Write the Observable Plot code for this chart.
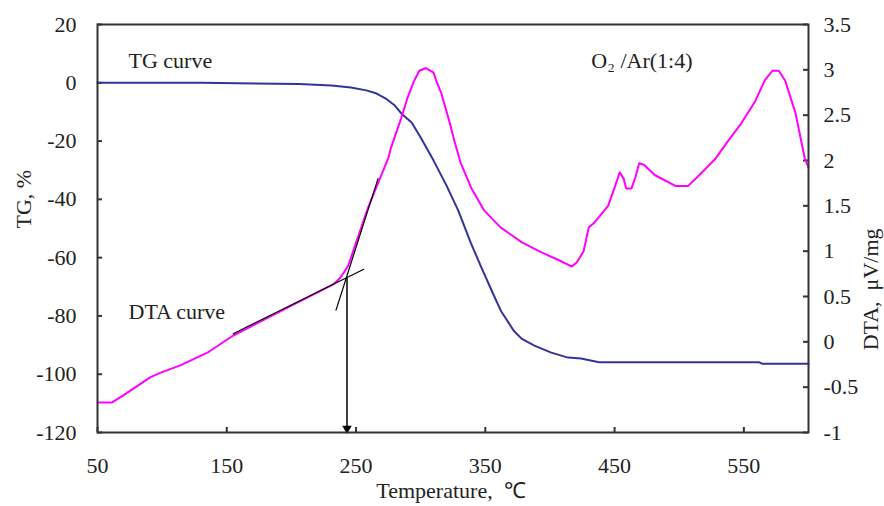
<!DOCTYPE html>
<html>
<head>
<meta charset="utf-8">
<script src="https://cdn.jsdelivr.net/npm/d3@7"></script>
<script src="https://cdn.jsdelivr.net/npm/@observablehq/plot@0.6"></script>
<style>
  html, body { margin: 0; padding: 0; background: #fff; }
</style>
</head>
<body>
<div id="chart"></div>
<script>
// ---- Data ----
const xTicks = [50, 150, 250, 350, 450, 550];
const tgTicks = [-120, -100, -80, -60, -40, -20, 0, 20];
const dtaTicks = [-1, -0.5, 0, 0.5, 1, 1.5, 2, 2.5, 3, 3.5];

// TG curve (%)
const tgTemp  = [50, 130, 206, 231, 246, 258, 266, 273, 280, 285, 293, 300, 310, 320, 329, 339, 347, 356, 362, 372, 378, 388, 401, 414, 424, 438, 562, 564, 600];
const tgValue = [0, 0, -0.4, -0.9, -1.6, -2.6, -3.7, -5.4, -7.8, -10.5, -13.6, -18.8, -26.7, -35.3, -43.8, -55.2, -63.4, -72.4, -78.2, -85.1, -87.8, -90.2, -92.6, -94.3, -94.6, -95.9, -95.9, -96.4, -96.4];

// DTA curve (μV/mg)
const dtaTemp  = [50, 61, 70, 91, 99, 114, 135, 155, 200, 233, 238, 244, 248, 254, 259, 267, 275, 277, 285, 290, 295, 299, 304, 310, 312, 316, 322, 326, 331, 339, 349, 362, 368, 378, 393, 407, 417, 421, 426, 430, 434, 445, 450, 454, 457, 459, 463, 466, 469, 473, 481, 497, 507, 517, 528, 538, 548, 559, 566, 572, 577, 582, 590, 597, 600];
const dtaValue = [-0.67, -0.67, -0.59, -0.39, -0.34, -0.26, -0.12, 0.07, 0.40, 0.64, 0.71, 0.84, 1.01, 1.26, 1.47, 1.75, 2.03, 2.14, 2.47, 2.70, 2.88, 2.99, 3.02, 2.97, 2.88, 2.74, 2.44, 2.22, 1.97, 1.70, 1.45, 1.26, 1.20, 1.10, 0.99, 0.90, 0.83, 0.88, 1.00, 1.26, 1.31, 1.50, 1.70, 1.87, 1.80, 1.69, 1.69, 1.81, 1.97, 1.95, 1.84, 1.72, 1.72, 1.86, 2.02, 2.22, 2.41, 2.66, 2.88, 2.99, 2.99, 2.88, 2.52, 2.03, 1.92];

// Onset construction (tangent lines and arrow)
const tangent1Temp = [155, 256];
const tangent1Dta  = [0.09, 0.80];
const tangent2Temp = [234.5, 267];
const tangent2Dta  = [0.35, 1.80];
const onsetTemp = [243];
const onsetDta  = [0.70];
const axisDta   = [-1];

// Annotations
const labels = ["TG curve", "O₂ /Ar(1:4)", "DTA curve"];
const labelTemp = [74, 432, 74];
const labelTG   = [7.6, 7.6, -78.5];

// ---- Helpers ----
const tgDomain = [-120, 20];
const dtaDomain = [-1, 3.5];
const dtaToY = d => tgDomain[0] + (d - dtaDomain[0]) * (tgDomain[1] - tgDomain[0]) / (dtaDomain[1] - dtaDomain[0]);
const yToDta = y => dtaDomain[0] + (y - tgDomain[0]) * (dtaDomain[1] - dtaDomain[0]) / (tgDomain[1] - tgDomain[0]);

const W = 884, H = 506, mL = 97, mR = 76, mT = 24, mB = 74;
const plotW = W - mL - mR, plotH = H - mT - mB;
const tickLen = 5;
const axisColor = "#333";

const tgData = tgTemp.map((t, i) => ({t, v: tgValue[i]}));
const dtaData = dtaTemp.map((t, i) => ({t, v: dtaValue[i]}));
const tan1 = tangent1Temp.map((t, i) => ({t, v: tangent1Dta[i]}));
const tan2 = tangent2Temp.map((t, i) => ({t, v: tangent2Dta[i]}));
const arrowData = onsetTemp.map((t, i) => ({t, from: onsetDta[i], to: axisDta[i]}));
const labelData = labels.map((s, i) => ({s, t: labelTemp[i], v: labelTG[i]}));

const chart = Plot.plot({
  width: W, height: H,
  marginLeft: mL, marginRight: mR, marginTop: mT, marginBottom: mB,
  style: {fontFamily: "'Liberation Serif', 'Times New Roman', serif", fontSize: "22px", color: "#222", background: "#fff"},
  x: {domain: [50, 600]},
  y: {domain: tgDomain},
  marks: [
    // inward ticks
    Plot.tickY(tgTicks, {y: d => d, stroke: axisColor, strokeWidth: 2, insetRight: plotW - tickLen}),
    Plot.tickY(dtaTicks.map(dtaToY), {y: d => d, stroke: axisColor, strokeWidth: 2, insetLeft: plotW - tickLen}),
    Plot.tickX(xTicks, {x: d => d, stroke: axisColor, strokeWidth: 2, insetTop: plotH - tickLen}),
    // tick labels
    Plot.axisY(tgTicks, {anchor: "left", tickSize: 0, tickPadding: 21, label: null, fill: "#222",
      tickFormat: v => String(v)}),
    Plot.axisY(dtaTicks.map(dtaToY), {anchor: "right", tickSize: 0, tickPadding: 15, label: null, fill: "#222",
      tickFormat: v => String(Math.round(yToDta(v) * 10) / 10)}),
    Plot.axisX(xTicks, {anchor: "bottom", tickSize: 0, tickPadding: 25, label: null, fill: "#222",
      tickFormat: v => String(v)}),
    // axis titles
    Plot.text(["TG, %"], {frameAnchor: "left", dx: -74, rotate: -90, fill: "#222"}),
    Plot.text(["DTA,  μV/mg"], {frameAnchor: "right", dx: 62, rotate: -90, fill: "#222"}),
    Plot.text(["Temperature,  ℃"], {frameAnchor: "bottom", dx: -2, dy: 65, fontSize: 22, fill: "#222"}),
    // curves
    Plot.line(tgData, {x: "t", y: "v", stroke: "#333399", strokeWidth: 2}),
    Plot.line(dtaData, {x: "t", y: d => dtaToY(d.v), stroke: "#ff00ff", strokeWidth: 2}),
    Plot.line(tan1, {x: "t", y: d => dtaToY(d.v), stroke: "#000", strokeWidth: 1.2}),
    Plot.line(tan2, {x: "t", y: d => dtaToY(d.v), stroke: "#000", strokeWidth: 1.2}),
    Plot.ruleX(arrowData, {x: "t", y1: d => dtaToY(d.from), y2: d => dtaToY(d.to), stroke: "#000", strokeWidth: 1.5}),
    Plot.dot(arrowData, {x: "t", y: d => dtaToY(d.to), symbol: "triangle", rotate: 180, r: 3.5, fill: "#000", dy: -4}),
    // annotations
    Plot.text(labelData, {x: "t", y: "v", text: "s", textAnchor: "start", fill: "#222"}),
    Plot.frame({stroke: axisColor, strokeWidth: 2})
  ]
});
document.getElementById("chart").appendChild(chart);
</script>
</body>
</html>
